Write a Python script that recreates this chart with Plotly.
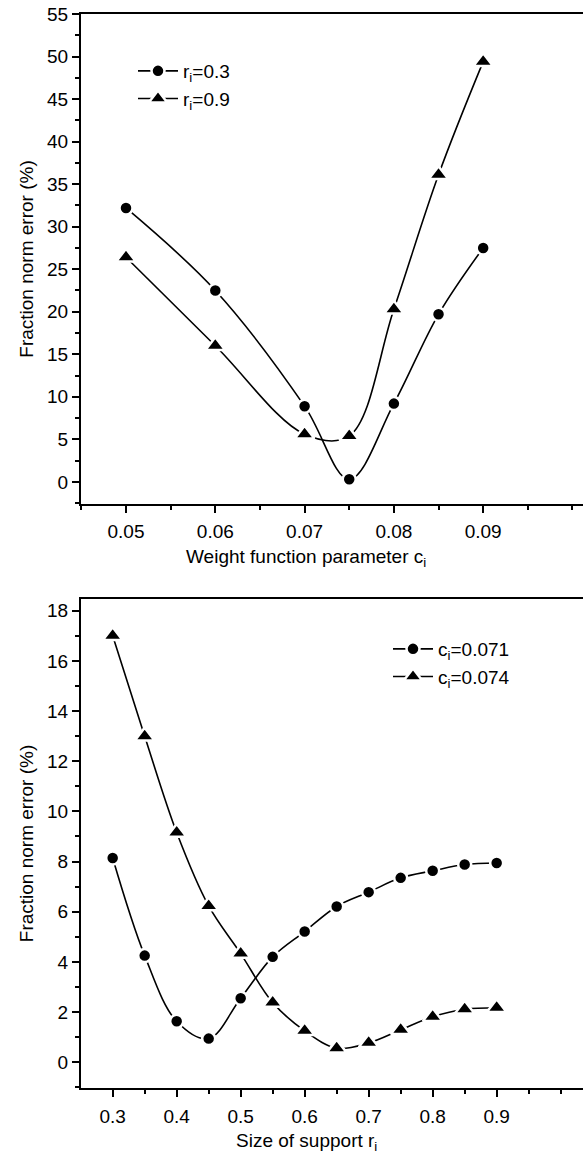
import plotly.graph_objects as go

# ---- data: top panel ----
c_vals = [0.05, 0.06, 0.07, 0.075, 0.08, 0.085, 0.09]
err_r03 = [32.2, 22.5, 8.9, 0.3, 9.2, 19.7, 27.5]
err_r09 = [26.4, 16.0, 5.6, 5.4, 20.3, 36.1, 49.4]
top_x_ticks = [0.05, 0.06, 0.07, 0.08, 0.09]
top_y_ticks = [0, 5, 10, 15, 20, 25, 30, 35, 40, 45, 50, 55]

# ---- data: bottom panel ----
r_vals = [0.3, 0.35, 0.4, 0.45, 0.5, 0.55, 0.6, 0.65, 0.7, 0.75, 0.8, 0.85, 0.9]
err_c071 = [8.14, 4.25, 1.63, 0.94, 2.55, 4.2, 5.21, 6.21, 6.78, 7.35, 7.63, 7.88, 7.94]
err_c074 = [17.0, 13.0, 9.16, 6.23, 4.33, 2.38, 1.25, 0.56, 0.77, 1.29, 1.81, 2.11, 2.17]
bot_x_ticks = [0.3, 0.4, 0.5, 0.6, 0.7, 0.8, 0.9]
bot_y_ticks = [0, 2, 4, 6, 8, 10, 12, 14, 16, 18]

FONT = "Liberation Sans, Arial, sans-serif"
BLACK = "black"
FS = 19

W, H = 583, 1153
ML, MR, MT, MB = 81, 0, 14, 65
ph = H - MT - MB
pw = W - ML - MR

def py(pix):
    return (H - MB - pix) / ph

def px(pix):
    return (pix - ML) / pw

def dom(top_px, bot_px):
    return [py(bot_px), py(top_px)]

fig = go.Figure()

def add(x, y, name, symbol, size, xa, ya, legend):
    fig.add_trace(go.Scatter(
        x=x, y=y, name=name, mode="lines+markers",
        line=dict(color=BLACK, width=1.6, shape="spline", smoothing=1.0),
        marker=dict(symbol=symbol, size=size, color=BLACK,
                    line=dict(color="white", width=2.5)),
        xaxis=xa, yaxis=ya, legend=legend))

add(c_vals, err_r03, "r<sub>i</sub>=0.3", "circle", 13, "x", "y", "legend")
add(c_vals, err_r09, "r<sub>i</sub>=0.9", "triangle-up", 17, "x", "y", "legend")
add(r_vals, err_c071, "c<sub>i</sub>=0.071", "circle", 13, "x2", "y2", "legend2")
add(r_vals, err_c074, "c<sub>i</sub>=0.074", "triangle-up", 17, "x2", "y2", "legend2")

axis_common = dict(
    showgrid=False, zeroline=False, showline=True, linecolor=BLACK, linewidth=2,
    ticks="outside", ticklen=7, tickwidth=1.5, tickcolor=BLACK,
    tickfont=dict(family=FONT, size=FS, color=BLACK),
)

fig.update_layout(
    width=W, height=H,
    margin=dict(l=ML, r=MR, t=MT, b=MB),
    paper_bgcolor="white", plot_bgcolor="white",
    font=dict(family=FONT, size=FS, color=BLACK),
    xaxis=dict(**axis_common, domain=[0, 1], anchor="y",
               range=[0.04496, 0.10118], tickvals=top_x_ticks,
               ticktext=[f"{v:.2f}" for v in top_x_ticks],
               mirror=True, ticklabelstandoff=2,
               minor=dict(dtick=0.005, tick0=0.045, ticks="outside", ticklen=4,
                          tickwidth=1.5, tickcolor=BLACK)),
    yaxis=dict(**axis_common, domain=dom(14, 504), anchor="x",
               range=[-2.6, 55.0], tickvals=top_y_ticks,
               minor=dict(dtick=2.5, tick0=0, ticks="outside", ticklen=4,
                          tickwidth=1.5, tickcolor=BLACK),
               title=dict(text="Fraction norm error (%)",
                          font=dict(family=FONT, size=FS), standoff=8)),
    xaxis2=dict(**axis_common, domain=[0, 1], anchor="y2",
                range=[0.2505, 1.0349], tickvals=bot_x_ticks,
                ticktext=[f"{v:.1f}" for v in bot_x_ticks],
                mirror=True, ticklabelstandoff=3,
                minor=dict(dtick=0.05, tick0=0.25, ticks="outside", ticklen=4,
                           tickwidth=1.5, tickcolor=BLACK)),
    yaxis2=dict(**axis_common, domain=dom(599, 1088), anchor="x2",
                range=[-1.03, 18.47], tickvals=bot_y_ticks,
                minor=dict(dtick=1, tick0=0, ticks="outside", ticklen=4,
                           tickwidth=1.5, tickcolor=BLACK),
                title=dict(text="Fraction norm error (%)",
                           font=dict(family=FONT, size=FS), standoff=8)),
    legend=dict(x=px(133), y=py(52),
                xanchor="left", yanchor="top", bgcolor="rgba(0,0,0,0)",
                font=dict(family=FONT, size=FS, color=BLACK),
                tracegroupgap=0, itemwidth=40),
    legend2=dict(x=px(388), y=py(630),
                 xanchor="left", yanchor="top", bgcolor="rgba(0,0,0,0)",
                 font=dict(family=FONT, size=FS, color=BLACK),
                 tracegroupgap=0, itemwidth=40),
    showlegend=True,
    annotations=[
        dict(text="Weight function parameter c<sub>i</sub>", xref="paper", yref="paper",
             x=px(306), y=py(558), xanchor="center", yanchor="middle",
             showarrow=False, font=dict(family=FONT, size=FS, color=BLACK)),
        dict(text="Size of support r<sub>i</sub>", xref="paper", yref="paper",
             x=px(306), y=py(1142), xanchor="center", yanchor="middle",
             showarrow=False, font=dict(family=FONT, size=FS, color=BLACK)),
    ],
)

fig.write_html("out.html")
